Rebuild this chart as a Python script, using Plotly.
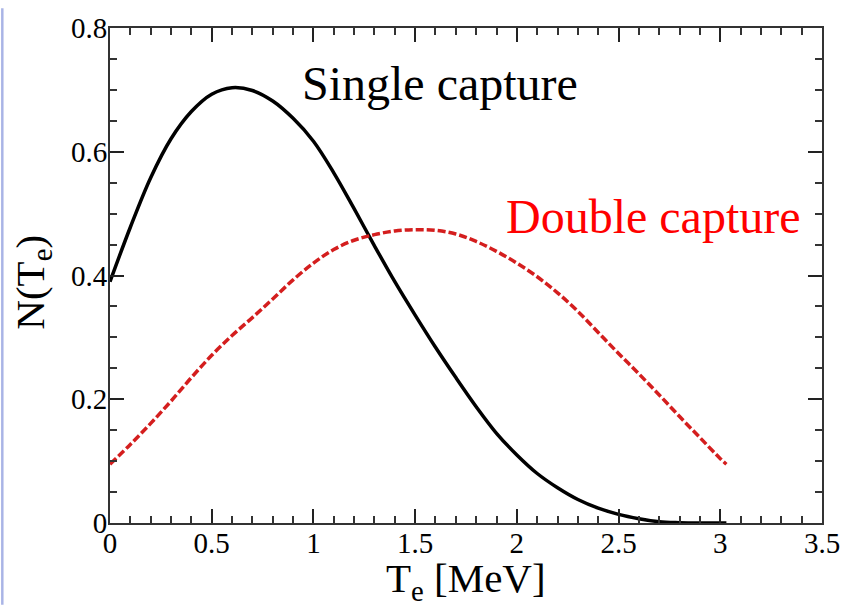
import plotly.graph_objects as go

# Data
te = [0.0, 0.1, 0.2, 0.3, 0.4, 0.5, 0.6, 0.7, 0.8, 0.9, 1.0, 1.1, 1.2, 1.3, 1.4, 1.5,
      1.6, 1.7, 1.8, 1.9, 2.0, 2.1, 2.2, 2.3, 2.4, 2.5, 2.6, 2.7, 2.8, 2.9, 3.0, 3.03]
single_capture = [0.39, 0.478, 0.558, 0.621, 0.665, 0.693, 0.7035, 0.699, 0.682, 0.654,
                  0.617, 0.566, 0.508, 0.448, 0.390, 0.336, 0.284, 0.235, 0.188, 0.145,
                  0.110, 0.080, 0.057, 0.038, 0.024, 0.014, 0.007, 0.002, 0.0005, 0.0,
                  0.0, 0.0]
double_capture = [0.095, 0.127, 0.161, 0.197, 0.235, 0.271, 0.303, 0.332, 0.362, 0.393,
                  0.420, 0.442, 0.457, 0.466, 0.472, 0.474, 0.473, 0.467, 0.455, 0.439,
                  0.420, 0.398, 0.372, 0.342, 0.308, 0.274, 0.241, 0.207, 0.172, 0.138,
                  0.104, 0.095]

x_tick_vals = [0, 0.5, 1, 1.5, 2, 2.5, 3, 3.5]
x_tick_text = ["0", "0.5", "1", "1.5", "2", "2.5", "3", "3.5"]
y_tick_vals = [0, 0.2, 0.4, 0.6, 0.8]
y_tick_text = ["0", "0.2", "0.4", "0.6", "0.8"]

FONT = "Liberation Serif"
W, H = 852, 606
L, R, T, B = 110, 23, 20, 83

fig = go.Figure()
fig.add_trace(go.Scatter(x=te, y=single_capture, mode="lines",
                         line=dict(color="black", width=3.5, shape="spline", smoothing=1.0),
                         name="Single capture"))
fig.add_trace(go.Scatter(x=te, y=double_capture, mode="lines",
                         line=dict(color="#d41e1e", width=3.5, dash="8px,3px",
                                   shape="spline", smoothing=1.0),
                         name="Double capture"))

axis_common = dict(
    showline=True, linecolor="#333333", linewidth=2, mirror="allticks",
    ticks="inside", ticklen=14, tickwidth=2, tickcolor="#222222",
    showgrid=False, zeroline=False,
    tickfont=dict(family=FONT, size=29, color="black"),
)

fig.update_xaxes(range=[0, 3.5], tickvals=x_tick_vals, ticktext=x_tick_text,
                 minor=dict(dtick=0.1, tick0=0, ticks="inside", ticklen=7,
                            tickwidth=1.5, tickcolor="#333333", showgrid=False),
                 ticklabelstandoff=-7, **axis_common)
fig.update_yaxes(range=[0, 0.8], tickvals=y_tick_vals, ticktext=y_tick_text,
                 minor=dict(dtick=0.05, tick0=0, ticks="inside", ticklen=7,
                            tickwidth=1.5, tickcolor="#333333", showgrid=False),
                 ticklabelstandoff=-5, **axis_common)

pw = W - L - R
ph = H - T - B

def px_x(p):
    return (p - L) / pw

def px_y(p):
    return (H - B - p) / ph

fig.add_annotation(x=0.935, y=0.71, xref="x", yref="y", text="Single capture",
                   showarrow=False, xanchor="left", yanchor="middle",
                   font=dict(family=FONT, size=48, color="black"))
fig.add_annotation(x=1.938, y=0.495, xref="x", yref="y", text="Double capture",
                   showarrow=False, xanchor="left", yanchor="middle",
                   font=dict(family=FONT, size=48, color="#ff0000"))

# axis titles
fig.add_annotation(x=px_x(469), y=px_y(582), xref="paper", yref="paper",
                   text="T<sub>e</sub> [MeV]", showarrow=False,
                   xanchor="center", yanchor="middle",
                   font=dict(family=FONT, size=41, color="black"))
fig.add_annotation(x=px_x(32), y=px_y(278), xref="paper", yref="paper",
                   text="N(T<sub>e</sub>)", showarrow=False, textangle=-90,
                   xanchor="center", yanchor="middle",
                   font=dict(family=FONT, size=41, color="black"))

# light blue slide border on the left edge
fig.add_shape(type="rect", xref="paper", yref="paper",
              x0=px_x(0), x1=px_x(2.5), y0=px_y(H), y1=px_y(0),
              fillcolor="#a9b4e6", line=dict(width=0), layer="below")

fig.update_layout(
    width=W, height=H,
    margin=dict(l=L, r=R, t=T, b=B),
    paper_bgcolor="white", plot_bgcolor="white",
    showlegend=False,
    font=dict(family=FONT),
)

fig.write_html("out.html")
